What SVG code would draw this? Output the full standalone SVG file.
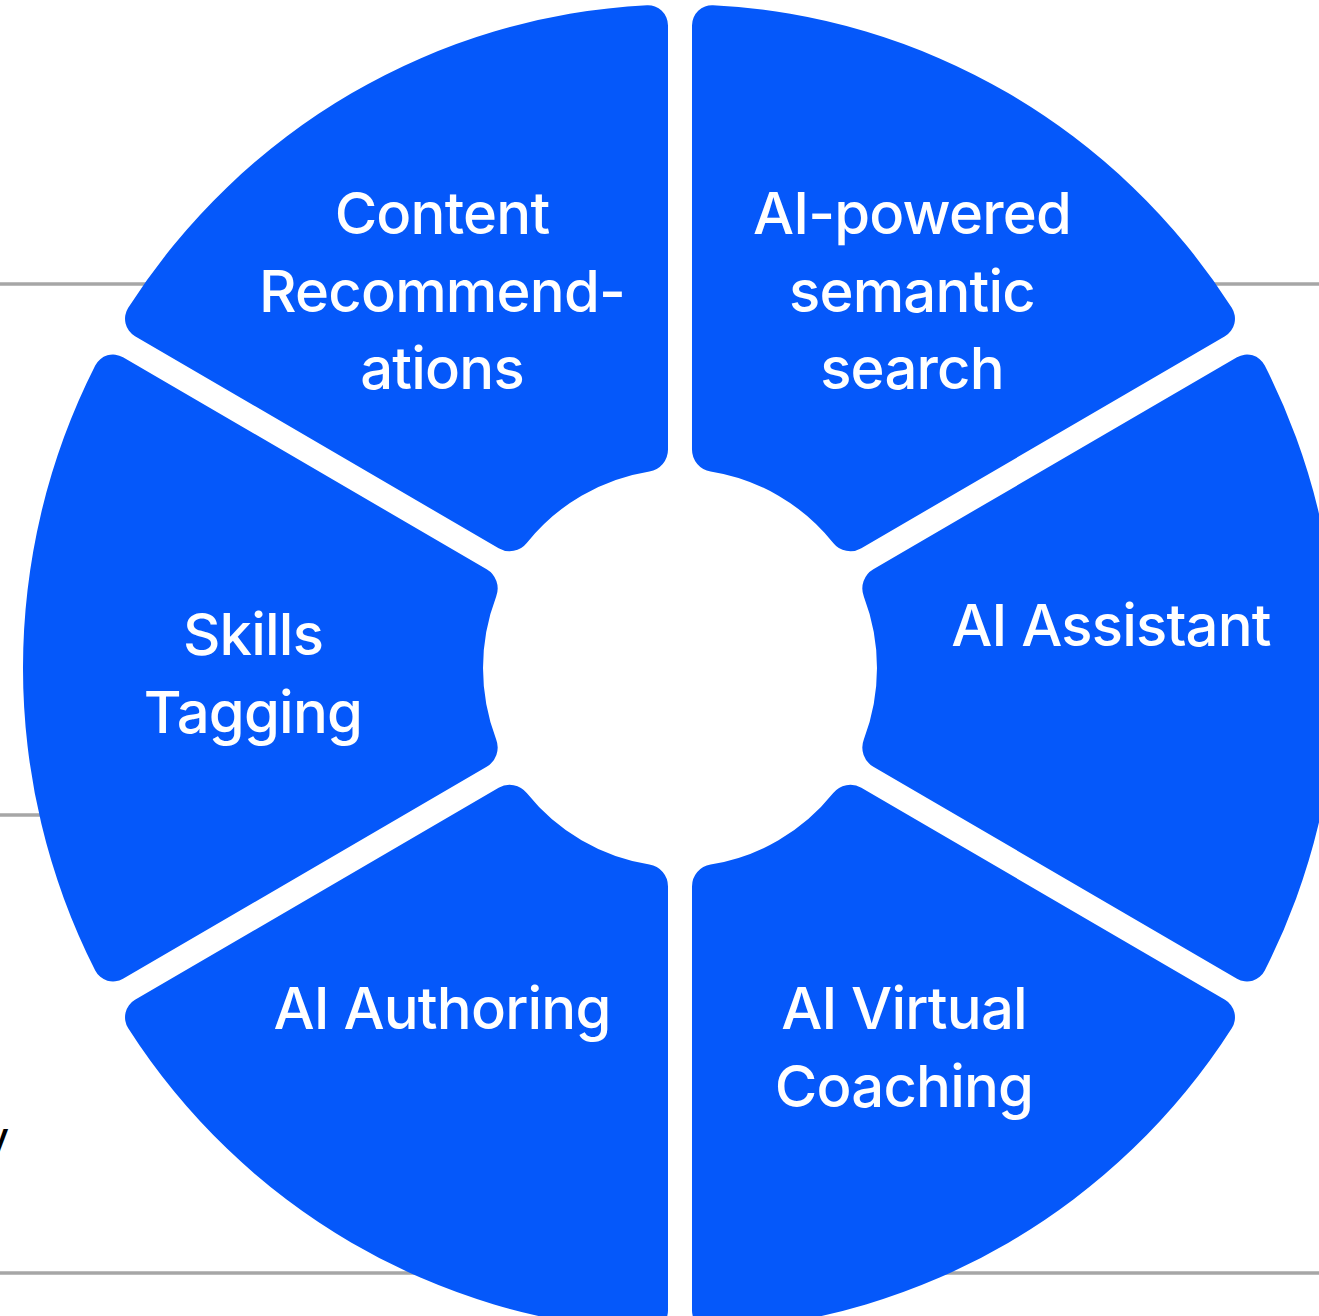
<svg xmlns="http://www.w3.org/2000/svg" xmlns:xlink="http://www.w3.org/1999/xlink" width="1319" height="1316" viewBox="0 0 1319 1316">
<style>
.bg{fill:#ffffff}
.rule{stroke:#a6a6a6;stroke-width:3.5;fill:none}
.seg{fill:#0558FA}
.lbl{fill:#ffffff;font-family:Inter,"Noto Sans","Liberation Sans",sans-serif;font-size:58px;font-weight:500;letter-spacing:-0.8px;text-anchor:middle}
.frag{fill:#000000;font-family:Inter,"Liberation Sans",sans-serif;font-size:40px;font-weight:500;text-anchor:end}
</style>
<defs>
<path id="seg" d="M 193.35 -97.78 L 556.97 -307.71 A 20 20 0 0 1 584.77 -299.51 A 657 657 0 0 1 584.77 299.51 A 20 20 0 0 1 556.97 307.71 L 193.35 97.78 A 22 22 0 0 1 183.82 70.82 A 197 197 0 0 0 183.82 -70.82 A 22 22 0 0 1 193.35 -97.78 Z"/>
</defs>
<rect class="bg" x="0" y="0" width="1319" height="1316"/>
<g id="background-rules">
<line class="rule" x1="0" y1="284" x2="300" y2="284"/>
<line class="rule" x1="1100" y1="284" x2="1319" y2="284"/>
<line class="rule" x1="0" y1="815" x2="200" y2="815"/>
<line class="rule" x1="0" y1="1273" x2="600" y2="1273"/>
<line class="rule" x1="760" y1="1273" x2="1319" y2="1273"/>
<text class="frag" x="9" y="1151">y</text>
</g>
<g id="connectors"></g>
<g id="node-ai-assistant">
<use href="#seg" class="seg" transform="translate(680 668) scale(1 1.01) rotate(0)"/>
<text class="lbl" x="1111" y="646">AI Assistant</text>
</g>
<g id="node-ai-virtual-coaching">
<use href="#seg" class="seg" transform="translate(680 668) scale(1 1.01) rotate(60)"/>
<text class="lbl" x="904" y="1029">AI Virtual</text>
<text class="lbl" x="904" y="1107">Coaching</text>
</g>
<g id="node-ai-authoring">
<use href="#seg" class="seg" transform="translate(680 668) scale(1 1.01) rotate(120)"/>
<text class="lbl" x="442" y="1029">AI Authoring</text>
</g>
<g id="node-skills-tagging">
<use href="#seg" class="seg" transform="translate(680 668) scale(1 1.01) rotate(180)"/>
<text class="lbl" x="253" y="655">Skills</text>
<text class="lbl" x="253" y="733">Tagging</text>
</g>
<g id="node-content-recommendations">
<use href="#seg" class="seg" transform="translate(680 668) scale(1 1.01) rotate(240)"/>
<text class="lbl" x="442" y="234">Content</text>
<text class="lbl" x="442" y="312">Recommend-</text>
<text class="lbl" x="442" y="389">ations</text>
</g>
<g id="node-ai-semantic-search">
<use href="#seg" class="seg" transform="translate(680 668) scale(1 1.01) rotate(300)"/>
<text class="lbl" x="912" y="234">AI-powered</text>
<text class="lbl" x="912" y="312">semantic</text>
<text class="lbl" x="912" y="389">search</text>
</g>
</svg>
